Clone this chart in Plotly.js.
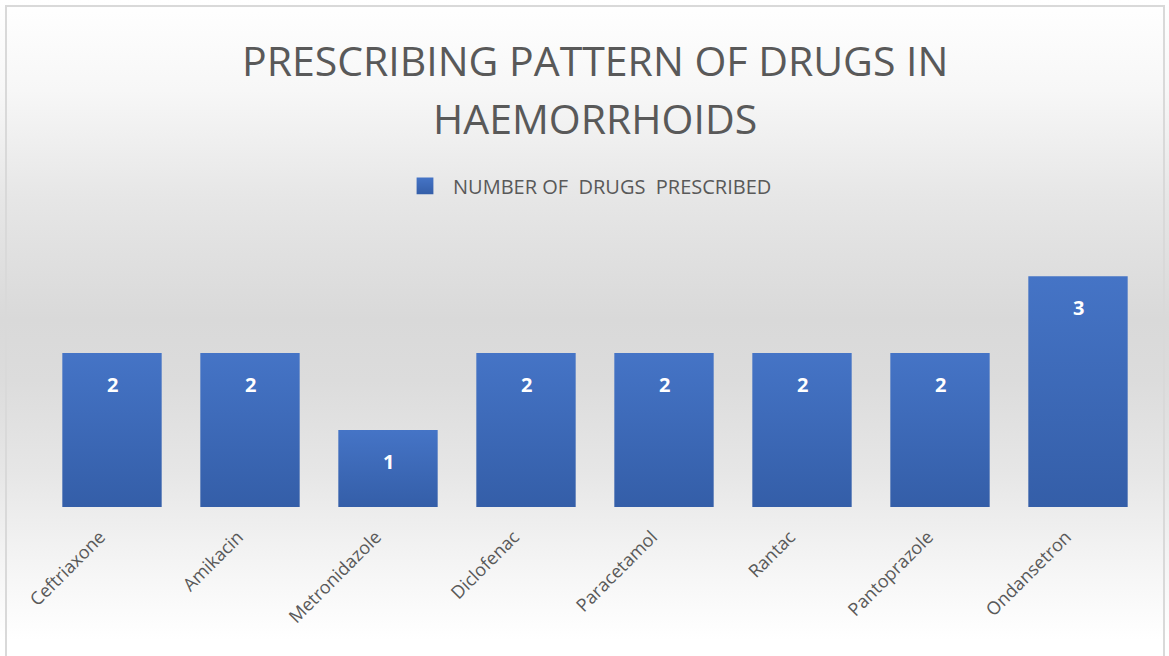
<!DOCTYPE html>
<html>
<head>
<meta charset="utf-8">
<script src="https://cdn.plot.ly/plotly-3.0.1.min.js"></script>
<style>
  html, body { margin:0; padding:0; background:#ffffff; }
  #wrap { position:absolute; left:0; top:0; width:1169px; height:656px; overflow:hidden;
    background: linear-gradient(to bottom, #ffffff 0px, #f7f7f7 90px, #e6e6e6 200px, #d9d9d9 320px, #dcdcdc 380px, #e6e6e6 470px, #f4f4f4 560px, #ffffff 640px); }
  #frame { position:absolute; left:5px; top:5px; width:1160px; height:660px; border:2px solid #d9d9d9; box-sizing:border-box; pointer-events:none; }
  #chart { position:absolute; left:0; top:0; width:1169px; height:656px; }
</style>
</head>
<body>
<div id="wrap"><div id="chart"></div><div id="frame"></div></div>
<script>
const categories = ["Ceftriaxone", "Amikacin", "Metronidazole", "Diclofenac", "Paracetamol", "Rantac", "Pantoprazole", "Ondansetron"];
const values = [2, 2, 1, 2, 2, 2, 2, 3];
const seriesName = "NUMBER OF  DRUGS  PRESCRIBED";
const titleLines = ["PRESCRIBING PATTERN OF DRUGS IN", "HAEMORRHOIDS"];

const trace = {
  type: "bar",
  x: categories,
  y: values,
  name: seriesName,
  width: 0.72,
  marker: { color: "#3d69b9" },
  hoverinfo: "x+y"
};

const annotations = categories.map((c, i) => ({
  x: c, y: values[i], xref: "x", yref: "y",
  text: "<b>" + values[i] + "</b>",
  showarrow: false, yanchor: "top", yshift: -16,
  font: { family: "Open Sans, sans-serif", size: 20, color: "#ffffff" }
}));

const titleY = [1.614, 1.404];
titleLines.forEach((t, i) => annotations.push({
  x: 0.5, y: titleY[i], xref: "paper", yref: "paper",
  xanchor: "center", yanchor: "middle", showarrow: false,
  text: t,
  font: { family: "Open Sans, sans-serif", size: 41, color: "#595959" }
}));

const layout = {
  width: 1169, height: 656,
  paper_bgcolor: "rgba(0,0,0,0)",
  plot_bgcolor: "rgba(0,0,0,0)",
  margin: { l: 43, r: 22, t: 230, b: 149 },
  showlegend: true,
  legend: {
    orientation: "h", x: 0.5, xanchor: "center", y: 1.159, yref: "paper",
    yanchor: "middle",
    font: { family: "Open Sans, sans-serif", size: 20, color: "#595959" },
    bgcolor: "rgba(0,0,0,0)", itemwidth: 30
  },
  xaxis: {
    type: "category",
    tickangle: -45,
    showgrid: false, zeroline: false, showline: false, ticks: "",
    tickfont: { family: "Open Sans, sans-serif", size: 18, color: "#595959" },
    ticklabelstandoff: 15, ticklabelshift: -12,
    range: [-0.5, 7.5]
  },
  yaxis: {
    range: [0, 3.6], showgrid: false, zeroline: false, showline: false,
    showticklabels: false, ticks: ""
  },
  annotations: annotations
};

Plotly.newPlot("chart", [trace], layout, { displayModeBar: false }).then(gd => {
  const svg = gd.querySelector("svg.main-svg");
  const ns = "http://www.w3.org/2000/svg";
  let defs = svg.querySelector("defs");
  const lg = document.createElementNS(ns, "linearGradient");
  lg.setAttribute("id", "barGrad");
  lg.setAttribute("x1", "0"); lg.setAttribute("y1", "0");
  lg.setAttribute("x2", "0"); lg.setAttribute("y2", "1");
  [["0", "#4574c6"], ["1", "#345ea8"]].forEach(([o, c]) => {
    const s = document.createElementNS(ns, "stop");
    s.setAttribute("offset", o); s.setAttribute("stop-color", c);
    lg.appendChild(s);
  });
  defs.appendChild(lg);
  gd.querySelectorAll(".barlayer .point path").forEach(p => { p.style.fill = "url(#barGrad)"; });
  gd.querySelectorAll(".legend .legendpoints path").forEach(p => {
    p.style.fill = "url(#barGrad)";
    p.setAttribute("transform", "translate(12,0) scale(1.4)");
  });
});
</script>
</body>
</html>
